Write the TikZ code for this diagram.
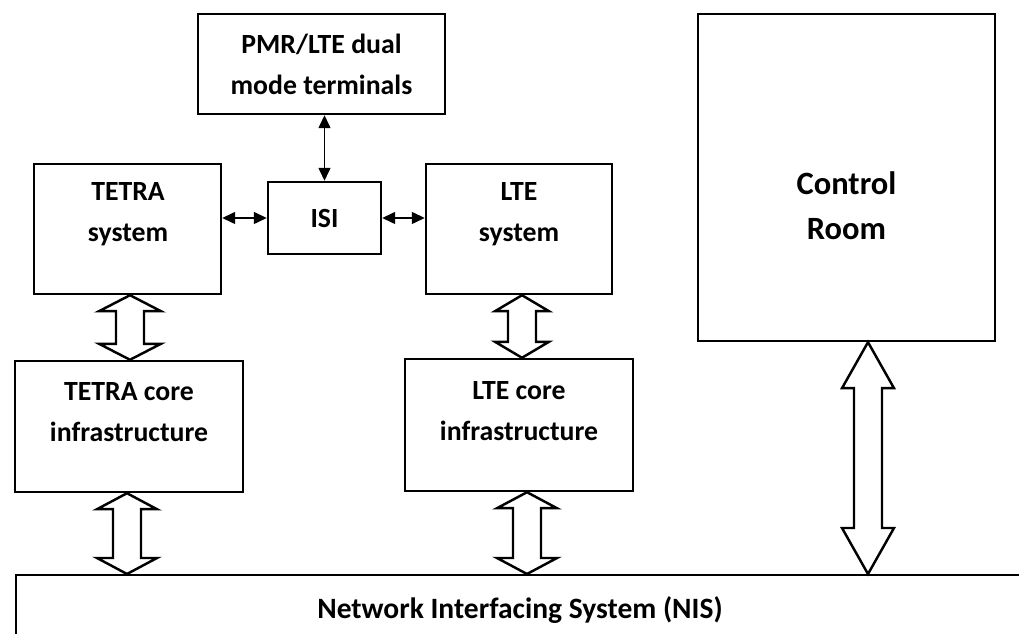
\documentclass[tikz,border=0pt]{standalone}
\usepackage{fontspec}
\setmainfont{Carlito}
\usetikzlibrary{arrows.meta,calc}

% hollow two-headed arrow: top tip, bottom tip, half head width, head length
\newcommand\fatarrow[4]{%
	\draw[fat] (#1) -- ++(#3,#4) -- ++(-#3+14,0) -- ($(#2)+(14,-#4)$) -- ++(#3-14,0) -- (#2)
		-- ++(-#3,-#4) -- ++(#3-14,0) -- ($(#1)+(-14,#4)$) -- ++(-#3+14,0) -- cycle;
}

\begin{document}
\begin{tikzpicture}[x=0.02cm, y=-0.02cm,
		box/.style={draw, line width=1.4pt, inner sep=0pt},
		txt/.style={font=\fontsize{15.8}{23.3}\selectfont\bfseries, align=center},
		bigtxt/.style={font=\fontsize{18.5}{25.6}\selectfont\bfseries, align=center},
		thinarr/.style={line width=0.8pt, {Triangle[length=0.26cm,width=0.24cm]}-{Triangle[length=0.26cm,width=0.24cm]}},
		fat/.style={line width=1.4pt, line join=miter}]
	\clip (0,0) rectangle (1019,634);

	\node[box, txt, minimum width=4.94cm, minimum height=2.00cm] (pmr) at (321.5,64) {PMR/LTE dual\\mode terminals};
	\node[box, txt, minimum width=2.26cm, minimum height=1.44cm] (isi) at (324.5,218) {ISI};
	\node[box, minimum width=3.74cm, minimum height=2.60cm] (tetra) at (127.5,229) {};
	\node[box, minimum width=3.72cm, minimum height=2.60cm] (lte) at (519,229) {};
	\node[box, minimum width=4.56cm, minimum height=2.62cm] (tetracore) at (129,426.5) {};
	\node[box, minimum width=4.56cm, minimum height=2.64cm] (ltecore) at (519,425) {};
	\node[box, minimum width=5.94cm, minimum height=6.54cm] (control) at (846.5,177.5) {};
	\node[box, anchor=north west, minimum width=22cm, minimum height=3cm] (nis) at (15,574) {};

	\node[txt] (tetratxt) at (128,214) {TETRA\\system};
	\node[txt] (ltetxt) at (519,214) {LTE\\system};
	\node[txt] (tetracoretxt) at (129,412) {TETRA core\\infrastructure};
	\node[txt] (ltecoretxt) at (519,411) {LTE core\\infrastructure};
	\node[bigtxt] (controltxt) at (846.5,206) {Control\\Room};
	\node[txt, font=\fontsize{16.8}{20}\selectfont\bfseries] (nistxt) at (520,610) {Network Interfacing System (NIS)};

	\draw[thinarr] (isi.north |- pmr.south) -- (isi.north);
	\draw[thinarr] (tetra.east |- isi.west) -- (isi.west);
	\draw[thinarr] (isi.east) -- (isi.east -| lte.west);

	\coordinate (t1) at ($(tetra.south)+(2.5,0)$);
	\coordinate (b1) at (t1 |- tetracore.north);
	\coordinate (t2) at ($(tetracore.south)+(-2,0)$);
	\coordinate (b2) at (t2 |- nis.north);
	\coordinate (t3) at ($(lte.south)+(3,0)$);
	\coordinate (b3) at (t3 |- ltecore.north);
	\coordinate (t4) at ($(ltecore.south)+(8,0)$);
	\coordinate (b4) at (t4 |- nis.north);
	\coordinate (t5) at ($(control.south)+(21.5,0)$);
	\coordinate (b5) at (t5 |- nis.north);

	\fatarrow{t1}{b1}{31}{16}
	\fatarrow{t2}{b2}{30}{16}
	\fatarrow{t3}{b3}{27}{16}
	\fatarrow{t4}{b4}{30}{16}
	\fatarrow{t5}{b5}{26}{46}
\end{tikzpicture}
\end{document}
